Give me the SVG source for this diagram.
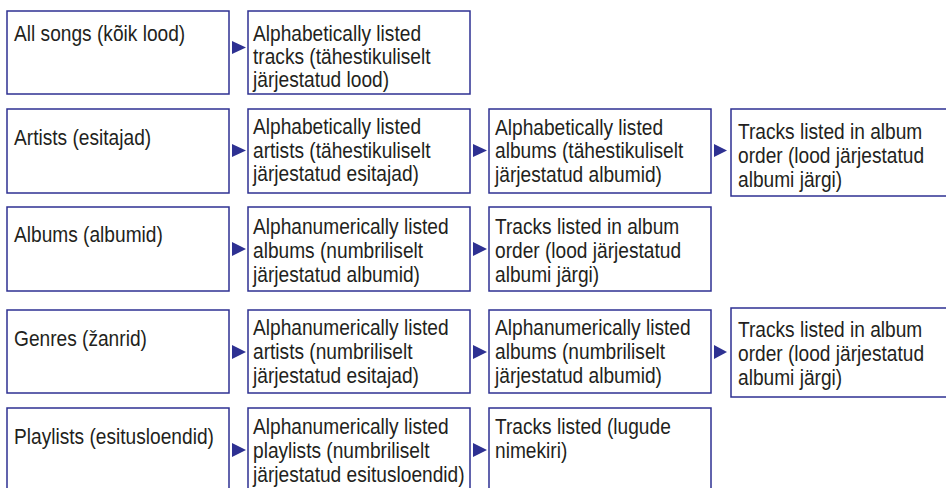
<svg xmlns="http://www.w3.org/2000/svg" width="946" height="488" viewBox="0 0 946 488">
<defs>
<style>
.box{fill:#fff;stroke:#2e3192;stroke-width:1.5}
.arr{fill:#2e3192}
text{font-family:"Liberation Sans",Arial,sans-serif;font-size:22px;fill:#231f20}
</style>
</defs>
<rect width="946" height="488" fill="#fff"/>
<g id="connectors">
<polygon class="arr" points="232,41 246,47.5 232,54"/>
<polygon class="arr" points="232,144 246,150.5 232,157"/>
<polygon class="arr" points="473,144 487,150.5 473,157"/>
<polygon class="arr" points="714,144 727,150.5 714,157"/>
<polygon class="arr" points="232,242 246,249 232,256"/>
<polygon class="arr" points="473,242 487,249 473,256"/>
<polygon class="arr" points="232,345 246,352 232,359"/>
<polygon class="arr" points="473,345 487,352 473,359"/>
<polygon class="arr" points="714,345 727,352 714,359"/>
<polygon class="arr" points="232,443 246,450 232,457"/>
<polygon class="arr" points="473,443 487,450 473,457"/>
</g>
<g id="n-allsongs"><rect class="box" x="7" y="11" width="222" height="83"/>
<text transform="matrix(0.87 0 0 1 14 41)">All songs (kõik lood)</text></g>
<g id="n-alpha-tracks"><rect class="box" x="248" y="11" width="222" height="83"/>
<text transform="matrix(0.87 0 0 1 253 40.5)"><tspan x="0" y="0">Alphabetically listed</tspan><tspan x="0" y="23.5">tracks (tähestikuliselt</tspan><tspan x="0" y="47">järjestatud lood)</tspan></text></g>

<g id="n-artists"><rect class="box" x="7" y="109" width="222" height="84"/>
<text transform="matrix(0.87 0 0 1 14 144.5)">Artists (esitajad)</text></g>
<g id="n-alpha-artists"><rect class="box" x="248" y="109" width="222" height="84"/>
<text transform="matrix(0.87 0 0 1 253 134)"><tspan x="0" y="0">Alphabetically listed</tspan><tspan x="0" y="24">artists (tähestikuliselt</tspan><tspan x="0" y="47.5">järjestatud esitajad)</tspan></text></g>
<g id="n-alpha-albums"><rect class="box" x="489" y="109" width="222" height="84"/>
<text transform="matrix(0.87 0 0 1 495 134.5)"><tspan x="0" y="0">Alphabetically listed</tspan><tspan x="0" y="24">albums (tähestikuliselt</tspan><tspan x="0" y="48">järjestatud albumid)</tspan></text></g>
<g id="n-tracks-album-1"><rect class="box" x="731" y="109" width="222" height="87"/>
<text transform="matrix(0.87 0 0 1 738 138.5)"><tspan x="0" y="0">Tracks listed in album</tspan><tspan x="0" y="24.5">order (lood järjestatud</tspan><tspan x="0" y="49">albumi järgi)</tspan></text></g>

<g id="n-albums"><rect class="box" x="7" y="207" width="222" height="84"/>
<text transform="matrix(0.87 0 0 1 14 241.5)">Albums (albumid)</text></g>
<g id="n-alnum-albums"><rect class="box" x="248" y="207" width="222" height="84"/>
<text transform="matrix(0.87 0 0 1 253 233.5)"><tspan x="0" y="0">Alphanumerically listed</tspan><tspan x="0" y="24.5">albums (numbriliselt</tspan><tspan x="0" y="49">järjestatud albumid)</tspan></text></g>
<g id="n-tracks-album-2"><rect class="box" x="489" y="207" width="222" height="84"/>
<text transform="matrix(0.87 0 0 1 495 233.5)"><tspan x="0" y="0">Tracks listed in album</tspan><tspan x="0" y="24.5">order (lood järjestatud</tspan><tspan x="0" y="49">albumi järgi)</tspan></text></g>

<g id="n-genres"><rect class="box" x="7" y="310" width="222" height="83"/>
<text transform="matrix(0.87 0 0 1 14 345.5)">Genres (žanrid)</text></g>
<g id="n-alnum-artists"><rect class="box" x="248" y="310" width="222" height="83"/>
<text transform="matrix(0.87 0 0 1 253 334.5)"><tspan x="0" y="0">Alphanumerically listed</tspan><tspan x="0" y="24.5">artists (numbriliselt</tspan><tspan x="0" y="49">järjestatud esitajad)</tspan></text></g>
<g id="n-alnum-albums-2"><rect class="box" x="489" y="310" width="222" height="83"/>
<text transform="matrix(0.87 0 0 1 495 334.5)"><tspan x="0" y="0">Alphanumerically listed</tspan><tspan x="0" y="24.5">albums (numbriliselt</tspan><tspan x="0" y="49">järjestatud albumid)</tspan></text></g>
<g id="n-tracks-album-3"><rect class="box" x="731" y="308" width="222" height="89"/>
<text transform="matrix(0.87 0 0 1 738 336.5)"><tspan x="0" y="0">Tracks listed in album</tspan><tspan x="0" y="24.5">order (lood järjestatud</tspan><tspan x="0" y="49">albumi järgi)</tspan></text></g>

<g id="n-playlists"><rect class="box" x="7" y="408" width="222" height="88"/>
<text transform="matrix(0.87 0 0 1 14 443.5)">Playlists (esitusloendid)</text></g>
<g id="n-alnum-playlists"><rect class="box" x="248" y="408" width="222" height="88"/>
<text transform="matrix(0.87 0 0 1 253 433.5)"><tspan x="0" y="0">Alphanumerically listed</tspan><tspan x="0" y="24.5">playlists (numbriliselt</tspan><tspan x="0" y="49">järjestatud esitusloendid)</tspan></text></g>
<g id="n-tracks-listed"><rect class="box" x="489" y="408" width="222" height="88"/>
<text transform="matrix(0.87 0 0 1 495 433.5)"><tspan x="0" y="0">Tracks listed (lugude</tspan><tspan x="0" y="24.5">nimekiri)</tspan></text></g>
</svg>
